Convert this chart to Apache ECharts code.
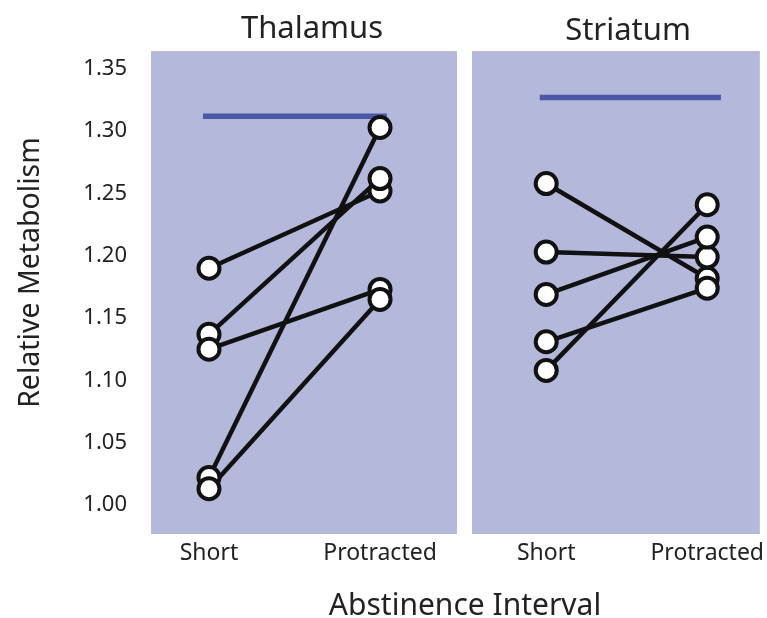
<!DOCTYPE html>
<html>
<head>
<meta charset="utf-8">
<script src="https://cdn.jsdelivr.net/npm/echarts@6/dist/echarts.min.js"></script>
<style>html,body{margin:0;padding:0;background:#fff;}#chart{width:767px;height:618px;}</style>
</head>
<body>
<div id="chart"></div>
<script>
// ---- data ----
var categories = ['Short', 'Protracted'];
var panelTitles = ['Thalamus', 'Striatum'];
var yTicks = [1.00, 1.05, 1.10, 1.15, 1.20, 1.25, 1.30, 1.35];
var thalamusShort = [1.190, 1.137, 1.125, 1.022, 1.013];
var thalamusProtracted = [1.252, 1.262, 1.173, 1.303, 1.165];
var striatumShort = [1.258, 1.203, 1.169, 1.131, 1.108];
var striatumProtracted = [1.182, 1.199, 1.215, 1.174, 1.241];
var thalamusControl = 1.312;
var striatumControl = 1.327;
var yName = 'Relative Metabolism';
var xName = 'Abstinence Interval';

// ---- build ----
var FONT = 'Noto Sans';
var TXT = '#222';
var PANEL = '#b4b9dc';

function subjectLines(shortVals, protVals, idx) {
  return shortVals.map(function (s, i) {
    return {
      type: 'line', xAxisIndex: idx, yAxisIndex: idx, z: 3,
      data: [[0, s], [1, protVals[i]]],
      showSymbol: false, symbol: 'none', silent: true,
      lineStyle: { color: '#111', width: 4.5 }
    };
  });
}
function subjectPoints(shortVals, protVals, idx) {
  var pts = [];
  shortVals.forEach(function (s) { pts.push([0, s]); });
  protVals.forEach(function (p) { pts.push([1, p]); });
  return {
    type: 'scatter', xAxisIndex: idx, yAxisIndex: idx, z: 4,
    data: pts, symbol: 'circle', symbolSize: 21,
    itemStyle: { color: '#fff', borderColor: '#111', borderWidth: 4, opacity: 1 }
  };
}
function controlLine(v, span, idx) {
  return {
    type: 'line', xAxisIndex: idx, yAxisIndex: idx, z: 2,
    data: [[span[0], v], [span[1], v]], showSymbol: false, symbol: 'none', silent: true,
    lineStyle: { color: '#4a57a6', width: 5.5 }
  };
}

function xAxis(idx, min, max) {
  return {
    type: 'value', gridIndex: idx, min: min, max: max,
    splitLine: { show: false }, axisLine: { show: false }, axisTick: { show: false },
    axisLabel: {
      customValues: [0, 1], margin: 8,
      fontFamily: FONT, fontSize: 23, color: TXT,
      formatter: function (v) { return categories[Math.round(v)]; }
    }
  };
}
function yAxis(idx, showLabels) {
  var ax = {
    type: 'value', gridIndex: idx, min: 0.9767, max: 1.3644,
    splitLine: { show: false }, axisLine: { show: false }, axisTick: { show: false },
    axisLabel: {
      show: showLabels, customValues: yTicks, margin: 24,
      fontFamily: FONT, fontSize: 22, color: TXT,
      formatter: function (v) { return v.toFixed(2); }
    }
  };
  if (showLabels) {
    ax.name = yName;
    ax.nameLocation = 'middle';
    ax.nameGap = 106;
    ax.nameTextStyle = { fontFamily: FONT, fontSize: 28.5, color: TXT, padding: [0, 0, 0, 40] };
  }
  return ax;
}

var option = {
  backgroundColor: '#fff',
  animation: false,
  title: [
    { text: panelTitles[0], left: 307, textAlign: 'center', top: 9,
      textStyle: { fontFamily: FONT, fontSize: 31, fontWeight: 'normal', color: TXT } },
    { text: panelTitles[1], left: 623, textAlign: 'center', top: 11,
      textStyle: { fontFamily: FONT, fontSize: 31, fontWeight: 'normal', color: TXT } },
    { text: xName, left: 460, textAlign: 'center', top: 586,
      textStyle: { fontFamily: FONT, fontSize: 30, fontWeight: 'normal', color: TXT } }
  ],
  grid: [
    { left: 151, top: 51, width: 306, height: 483, show: true, backgroundColor: PANEL, borderWidth: 0 },
    { left: 472, top: 51, width: 295, height: 483, show: true, backgroundColor: PANEL, borderWidth: 0 }
  ],
  xAxis: [xAxis(0, -0.339, 1.450), xAxis(1, -0.461, 1.327)],
  yAxis: [yAxis(0, true), yAxis(1, false)],
  series: [].concat(
    [controlLine(thalamusControl, [-0.035, 1.04], 0)],
    subjectLines(thalamusShort, thalamusProtracted, 0),
    [subjectPoints(thalamusShort, thalamusProtracted, 0)],
    [controlLine(striatumControl, [-0.04, 1.085], 1)],
    subjectLines(striatumShort, striatumProtracted, 1),
    [subjectPoints(striatumShort, striatumProtracted, 1)]
  )
};
var chart = echarts.init(document.getElementById('chart'), null, { renderer: 'canvas' });
chart.setOption(option);
</script>
</body>
</html>
